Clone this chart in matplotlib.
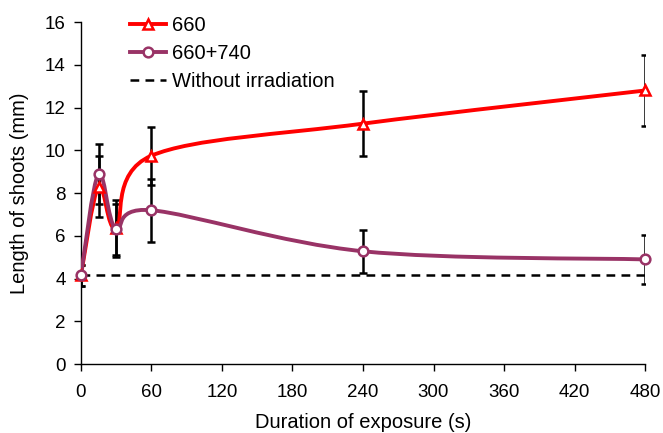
import numpy as np
import matplotlib
matplotlib.use('Agg')
from matplotlib import pyplot as plt
from matplotlib.path import Path
from matplotlib.patches import PathPatch
from matplotlib.lines import Line2D

plt.rcParams['font.family'] = ['Liberation Sans', 'DejaVu Sans']

# Data
times = [0, 15, 30, 60, 240, 480]
red_vals = [4.15, 8.3, 6.35, 9.75, 11.25, 12.8]
red_err = [0.5, 1.42, 1.33, 1.35, 1.53, 1.65]
purple_vals = [4.15, 8.9, 6.3, 7.2, 5.28, 4.9]
purple_err = [0.5, 1.4, 1.2, 1.48, 1.0, 1.13]
baseline = 4.15

xticks = [0, 60, 120, 180, 240, 300, 360, 420, 480]
yticks = [0, 2, 4, 6, 8, 10, 12, 14, 16]

red = '#FF0000'
plum = '#993366'


def smooth_path(x, y):
    # Excel-like smoothed line: Catmull-Rom converted to cubic Bezier
    pts = np.column_stack([x, y]).astype(float)
    n = len(pts)
    verts = [pts[0]]
    codes = [Path.MOVETO]
    for i in range(n - 1):
        p0 = pts[i - 1] if i > 0 else pts[i]
        p1 = pts[i]
        p2 = pts[i + 1]
        p3 = pts[i + 2] if i + 2 < n else pts[i + 1]
        c1 = p1 + (p2 - p0) / 6.0
        c2 = p2 - (p3 - p1) / 6.0
        verts += [c1, c2, p2]
        codes += [Path.CURVE4] * 3
    return Path(verts, codes)


fig = plt.figure(figsize=(6.63, 4.33), dpi=100)
ax = fig.add_axes([0.122, 0.159, 0.851, 0.79])

ax.plot([0, 480], [baseline, baseline], color='black', lw=1.8,
        dashes=(3.5, 2.5), zorder=2)

for vals, err in [(red_vals, red_err), (purple_vals, purple_err)]:
    ax.errorbar(times, vals, yerr=err, fmt='none', ecolor='black',
                elinewidth=1.8, capsize=3, capthick=1.8, zorder=3)

for vals, col, mk in [(red_vals, red, '^'), (purple_vals, plum, 'o')]:
    ax.add_patch(PathPatch(smooth_path(times, vals), facecolor='none',
                           edgecolor=col, lw=2.8, zorder=4))
    ax.plot(times, vals, ls='none', marker=mk, markersize=7,
            markerfacecolor='white', markeredgecolor=col,
            markeredgewidth=1.8, zorder=5, clip_on=False)

ax.set_xlim(0, 480)
ax.set_ylim(0, 16)
ax.set_xticks(xticks)
ax.set_yticks(yticks)
ax.tick_params(direction='out', length=5, width=1, labelsize=13.5)
ax.tick_params(axis='x', pad=9)
ax.tick_params(axis='y', pad=6)
ax.spines['top'].set_visible(False)
ax.spines['right'].set_visible(False)
ax.spines['left'].set_linewidth(1)
ax.spines['bottom'].set_linewidth(1)

ax.set_xlabel('Duration of exposure (s)', fontsize=14.5, labelpad=9)
ax.set_ylabel('Length of shoots (mm)', fontsize=14.5, labelpad=11)

handles = [
    Line2D([], [], color=red, lw=2.8, marker='^', markersize=7,
           markerfacecolor='white', markeredgecolor=red, markeredgewidth=1.8),
    Line2D([], [], color=plum, lw=2.8, marker='o', markersize=7,
           markerfacecolor='white', markeredgecolor=plum, markeredgewidth=1.8),
    Line2D([], [], color='black', lw=1.8, dashes=(3.5, 2.5)),
]
ax.legend(handles, ['660', '660+740', 'Without irradiation'],
          loc='upper left', bbox_to_anchor=(0.055, 1.07), frameon=False,
          fontsize=14.5, handlelength=1.8, handletextpad=0.3, labelspacing=0.45)

fig.savefig('out.png', dpi=100)
